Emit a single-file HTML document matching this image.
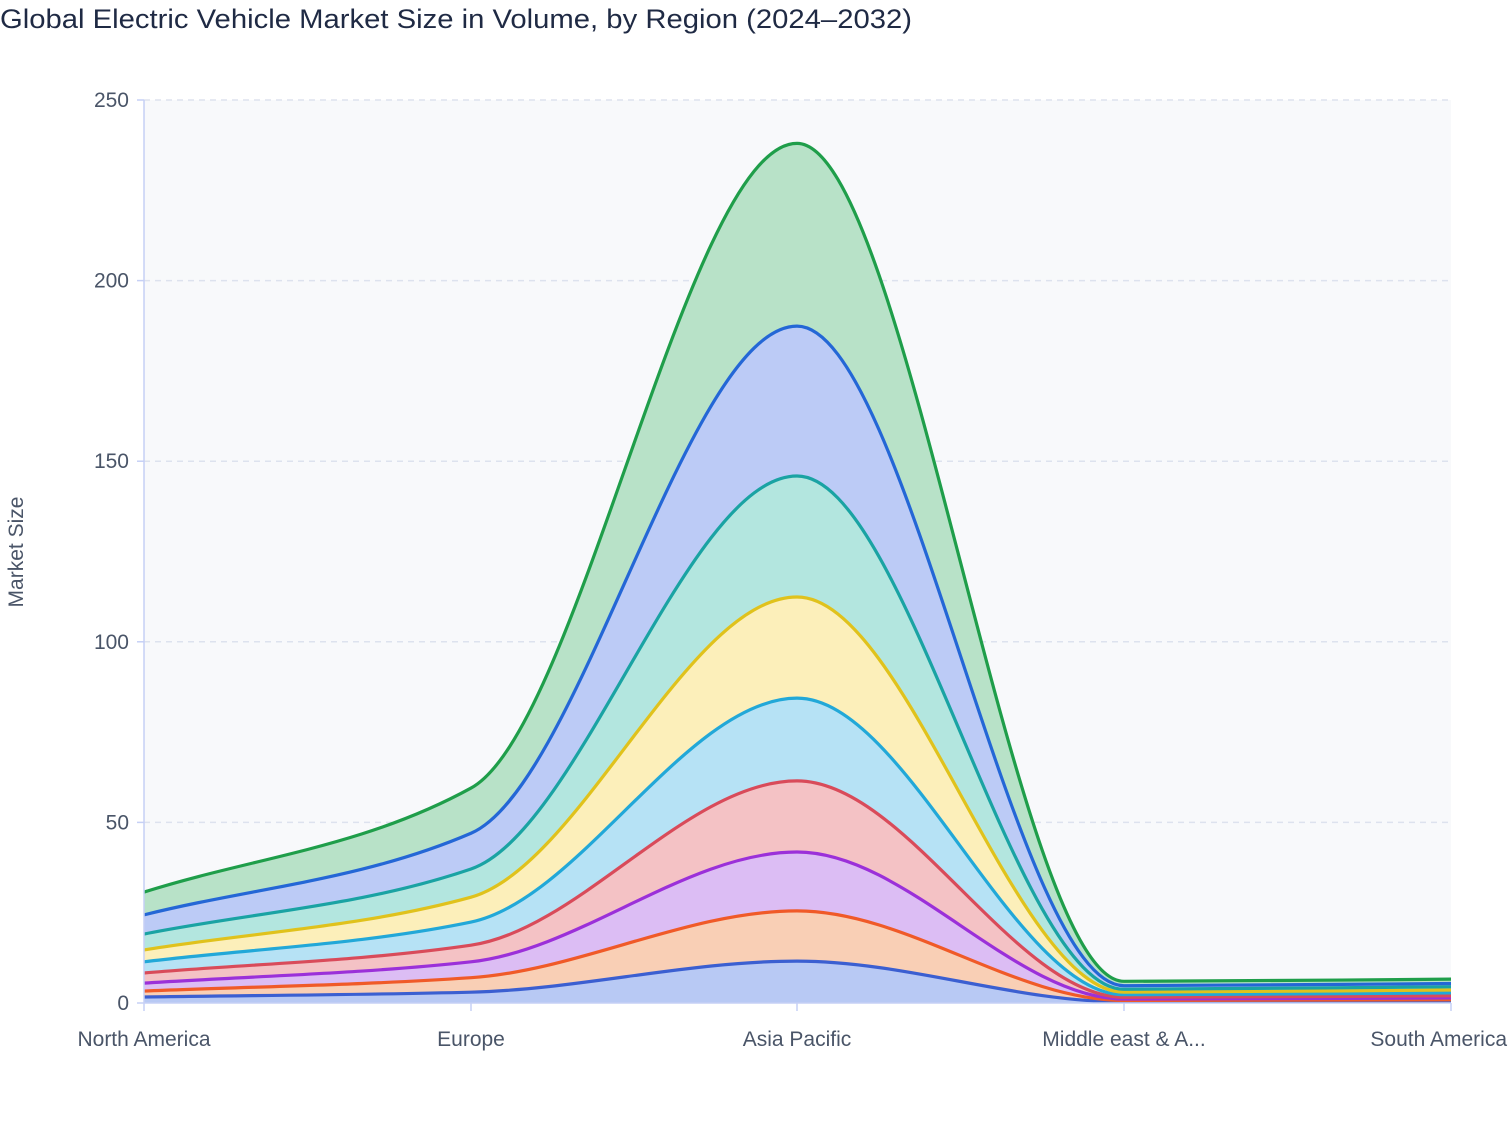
<!DOCTYPE html>
<html><head><meta charset="utf-8"><style>
body{margin:0;background:#fff;font-family:"Liberation Sans",sans-serif;}
</style></head><body>
<svg id="s" width="1508" height="1120" xmlns="http://www.w3.org/2000/svg" font-family="Liberation Sans, sans-serif">
<text x="0" y="28" font-size="27" fill="#1f2a44" textLength="912" lengthAdjust="spacingAndGlyphs">Global Electric Vehicle Market Size in Volume, by Region (2024–2032)</text>
<rect x="144" y="100" width="1307" height="903" fill="#f8f9fb"/>
<g id="grid"></g>
<g id="areas"></g>
<line x1="144" y1="100" x2="144" y2="1003" stroke="#c6d0f5" stroke-width="1.5"/>
<line x1="144" y1="1003" x2="1451" y2="1003" stroke="#c6d0f5" stroke-width="1.5"/>
<g id="ticks" font-size="21" fill="#4a5568"></g>
<text transform="translate(23,552) rotate(-90)" text-anchor="middle" font-size="21" fill="#4a5568">Market Size</text>
</svg>
<script>
const NS="http://www.w3.org/2000/svg";
const X=[144,471,797,1124,1451];
const Y=v=>1003-v*3.612;
const data=[
[1.66,3,11.6,0.3,0.4],[3.3,7,25.5,0.7,0.9],[5.5,11.4,41.8,1.1,1.4],[8.3,16,61.5,1.6,2.0],
[11.4,22.4,84.4,2.3,2.8],[14.7,29.3,112.4,3.0,3.6],[19.1,37.1,145.9,3.8,4.5],[24.4,47,187.4,4.8,5.4],[30.7,59.5,238,6.0,6.6]];
const lc=["#3b5fd1","#f05a28","#9b30d9","#d94b5a","#22a8d8","#e0c21c","#1aa3a3","#2467d6","#1f9e4a"];
const fc=["#b8c9f4","#f9cfb5","#dcbdf4","#f4c2c5","#b6e2f5","#fcefba","#b3e6df","#bccbf6","#b8e2c8"];
function el(t,a,p){const e=document.createElementNS(NS,t);for(const k in a)e.setAttribute(k,a[k]);p.appendChild(e);return e;}
function mono(pts){const n=pts.length,dx=[],s=[],m=[];
for(let i=0;i<n-1;i++){dx[i]=pts[i+1][0]-pts[i][0];s[i]=(pts[i+1][1]-pts[i][1])/dx[i];}
m[0]=s[0];m[n-1]=s[n-2];
for(let i=1;i<n-1;i++){m[i]=(s[i-1]*s[i]<=0)?0:(2*s[i-1]*s[i])/(s[i-1]+s[i]);}
let d="";
for(let i=0;i<n-1;i++){const h=dx[i]/3,p1=pts[i],p2=pts[i+1];
d+=` C${p1[0]+h},${p1[1]+m[i]*h} ${p2[0]-h},${p2[1]-m[i+1]*h} ${p2[0]},${p2[1]}`;}return d;}
const g=document.getElementById("grid");
[50,100,150,200,250].forEach(v=>el("line",{x1:144,x2:1451,y1:Y(v),y2:Y(v),stroke:"#dde2ee","stroke-dasharray":"6,5","stroke-width":1.5},g));
const a=document.getElementById("areas");
for(let k=data.length-1;k>=0;k--){
const top=X.map((x,i)=>[x,Y(data[k][i])]);
let d=`M${top[0][0]},${top[0][1]}`+mono(top);
if(k>0){const bot=X.map((x,i)=>[x,Y(data[k-1][i])]).reverse();
const botF=bot.map(p=>[-p[0],p[1]]);
const seg=mono(botF).replace(/-?[\d.]+,/g,(m)=>String(-parseFloat(m))+",");
d+=` L${bot[0][0]},${bot[0][1]}`+seg+"Z";}else d+=" L1451,1003 L144,1003Z";
el("path",{d:d,fill:fc[k]},a);}
for(let k=0;k<data.length;k++){
const top=X.map((x,i)=>[x,Y(data[k][i])]);
el("path",{d:`M${top[0][0]},${top[0][1]}`+mono(top),fill:"none",stroke:lc[k],"stroke-width":3.2},a);}
const t=document.getElementById("ticks");
[0,50,100,150,200,250].forEach(v=>{el("line",{x1:137,x2:144,y1:Y(v),y2:Y(v),stroke:"#c6d0f5","stroke-width":1.5},t);
const e=el("text",{x:129,y:Y(v)+7,"text-anchor":"end"},t);e.textContent=v;});
const L=["North America","Europe","Asia Pacific","Middle east & A...","South America"];
X.forEach((x,i)=>{el("line",{x1:x,x2:x,y1:1003,y2:1011,stroke:"#c6d0f5","stroke-width":1.5},t);
const last=i==4;
const e=el("text",{x:last?1507:x,y:1046,"text-anchor":last?"end":"middle"},t);e.textContent=L[i];});
</script>
</body></html>
